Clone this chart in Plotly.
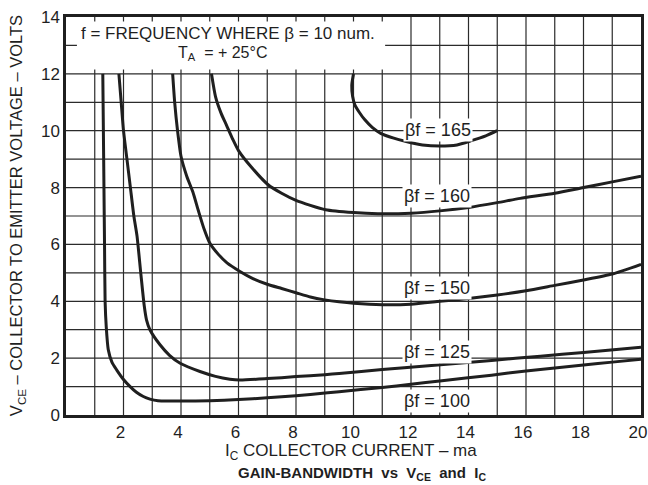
import plotly.graph_objects as go

# ---- data ----
ic_100 = [1.28, 1.30, 1.32, 1.34, 1.36, 1.40, 1.47, 1.60, 1.76, 2.00, 2.23, 2.45, 2.69, 2.92, 3.20, 3.60, 4.50,
          5.50, 6.50, 7.50, 8.50, 9.50, 11.0, 12.0, 13.0, 14.8, 16.0, 17.0, 18.0, 19.0, 20.0]
vce_100 = [12.0, 10.0, 8.0, 6.0, 4.0, 3.1, 2.3, 1.85, 1.59, 1.25, 1.0, 0.8, 0.65, 0.56, 0.5, 0.49, 0.49,
           0.52, 0.57, 0.64, 0.72, 0.82, 0.97, 1.08, 1.2, 1.4, 1.55, 1.65, 1.76, 1.86, 1.96]

ic_125 = [1.84, 1.92, 2.00, 2.12, 2.24, 2.36, 2.47, 2.60, 2.72, 2.80, 2.92, 3.27, 3.60, 3.97, 4.66, 5.20, 5.70,
          6.05, 7.0, 8.0, 9.0, 9.5, 11.0, 12.5, 14.8, 16.5, 18.0, 20.0]
vce_125 = [12.0, 11.0, 10.0, 9.0, 8.0, 7.0, 6.3, 5.0, 3.85, 3.35, 3.0, 2.47, 2.1, 1.82, 1.53, 1.36, 1.26,
           1.23, 1.28, 1.35, 1.42, 1.46, 1.6, 1.72, 1.92, 2.07, 2.2, 2.38]

ic_150 = [3.71, 3.78, 3.88, 4.00, 4.20, 4.41, 4.60, 4.80, 5.00, 5.30, 5.60, 6.05, 6.50, 7.0, 7.5, 8.0, 8.5,
          9.0, 9.5, 10.0, 11.0, 12.0, 13.0, 14.0, 15.0, 16.0, 17.0, 18.0, 19.0, 20.0]
vce_150 = [12.0, 11.0, 10.0, 9.1, 8.4, 7.85, 7.2, 6.55, 6.05, 5.65, 5.35, 5.05, 4.8, 4.6, 4.45, 4.3, 4.15,
           4.05, 3.98, 3.93, 3.88, 3.9, 4.0, 4.1, 4.22, 4.37, 4.56, 4.75, 4.96, 5.3]

ic_160 = [5.06, 5.20, 5.40, 5.58, 5.80, 6.00, 6.43, 7.03, 7.50, 8.00, 9.03, 10.0, 10.85, 12.0, 13.0, 14.0,
          15.0, 15.8, 17.0, 18.0, 19.0, 20.0]
vce_160 = [12.0, 11.2, 10.6, 10.2, 9.7, 9.3, 8.74, 8.1, 7.8, 7.55, 7.22, 7.12, 7.08, 7.1, 7.18, 7.3,
           7.47, 7.62, 7.8, 8.0, 8.2, 8.4]

ic_165 = [10.0, 9.94, 9.97, 10.05, 10.2, 10.38, 10.65, 10.96, 11.4, 11.8, 12.4, 13.0, 13.6, 14.1, 14.6, 15.0]
vce_165 = [12.0, 11.6, 11.2, 10.9, 10.65, 10.4, 10.12, 9.9, 9.74, 9.63, 9.5, 9.46, 9.5, 9.65, 9.82, 10.0]

curve_labels = ["βf = 100", "βf = 125", "βf = 150", "βf = 160", "βf = 165"]
label_x = [12.9, 12.9, 12.9, 12.9, 12.93]
label_y = [0.48, 2.2, 4.45, 7.7, 10.03]

x_ticks = [2, 4, 6, 8, 10, 12, 14, 16, 18, 20]
y_ticks = [0, 2, 4, 6, 8, 10, 12, 14]
x_grid = list(range(1, 20))   # grid every 1 ma
y_grid = list(range(1, 14))   # grid every 1 V

FONT = "Liberation Sans"
INK = "#1f1f1f"
GRID = "#2b2b2b"

fig = go.Figure()

# grid lines placed on the axis scale
for gx in x_grid:
    fig.add_vline(x=gx, line=dict(color=GRID, width=1.2), layer="below")
for gy in y_grid:
    fig.add_hline(y=gy, line=dict(color=GRID, width=1.2), layer="below")

for xs, ys in [(ic_100, vce_100), (ic_125, vce_125), (ic_150, vce_150), (ic_160, vce_160), (ic_165, vce_165)]:
    fig.add_trace(go.Scatter(x=xs, y=ys, mode="lines",
                             line=dict(color=INK, width=3, shape="spline", smoothing=0.6),
                             showlegend=False, hoverinfo="skip"))

for t, lx, ly in zip(curve_labels, label_x, label_y):
    fig.add_annotation(x=lx, y=ly, text=t, showarrow=False, bgcolor="white", borderpad=1,
                       font=dict(family=FONT, size=18, color=INK))

# header box
fig.add_shape(type="rect", xref="x", yref="y", x0=0.38, x1=11.1, y0=12.15, y1=13.84,
              fillcolor="white", line=dict(width=0), layer="above")
fig.add_annotation(x=5.62, y=13.42, text="f = FREQUENCY WHERE β = 10 num.", showarrow=False,
                   font=dict(family=FONT, size=17, color=INK))
fig.add_annotation(x=5.46, y=12.72, text="T<sub>A</sub>  = + 25°C", showarrow=False,
                   font=dict(family=FONT, size=16, color=INK))

# axis titles & caption
fig.add_annotation(xref="paper", yref="paper", x=0.496, y=-0.092, yanchor="middle",
                   text="I<sub>C</sub> COLLECTOR CURRENT – ma", showarrow=False,
                   font=dict(family=FONT, size=17, color=INK))
fig.add_annotation(xref="paper", yref="paper", x=0.515, y=-0.148, yanchor="middle",
                   text="<b>GAIN-BANDWIDTH  vs  V<sub>CE</sub>  and  I<sub>C</sub></b>", showarrow=False,
                   font=dict(family=FONT, size=15, color=INK))
fig.add_annotation(xref="paper", yref="paper", x=-0.085, y=0.5, xanchor="center", yanchor="middle",
                   textangle=-90, text="V<sub>CE</sub> – COLLECTOR TO EMITTER VOLTAGE – VOLTS",
                   showarrow=False, font=dict(family=FONT, size=16.5, color=INK))

axis_common = dict(showgrid=False, automargin=False, ticklabeloverflow="allow",
                   showline=True, linecolor=INK, linewidth=2.5, mirror=True, zeroline=False,
                   ticks="", tickfont=dict(family=FONT, size=17, color=INK))
fig.update_xaxes(range=[0, 20], tickmode="array", tickvals=x_ticks, ticklabelshift=-3, **axis_common)
fig.update_yaxes(range=[0, 14], tickmode="array", tickvals=y_ticks, **axis_common)

fig.update_layout(width=648, height=485, margin=dict(l=66, r=7, t=17, b=70),
                  paper_bgcolor="white", plot_bgcolor="white", showlegend=False)

fig.write_html("out.html")
